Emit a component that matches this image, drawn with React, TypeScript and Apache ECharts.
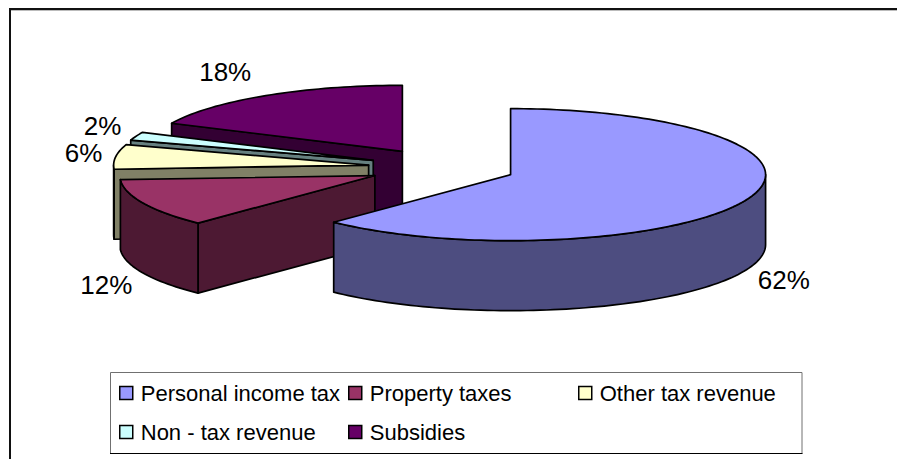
import React, { useEffect, useRef } from "react";
import * as echarts from "echarts";

const categories = ["Personal income tax", "Property taxes", "Other tax revenue", "Non - tax revenue", "Subsidies"];
const shares = [62.2, 11.8, 6, 2, 18];
const topColors = ["#9999FF", "#993366", "#FFFFCC", "#CCFFFF", "#660066"];
const wallColors = ["#4D4D80", "#4D1933", "#808066", "#668080", "#330033"];

const CX = 442;
const CY = 167.5;
const RX = 255;
const RY = 66;
const DEPTH = 70;
const EXPLODE = 0.29;
const FONT = "'Liberation Sans', Arial, sans-serif";
const rad = (d: number) => (d * Math.PI) / 180;
const total = shares.reduce((a, b) => a + b, 0);

function renderSlice(index: number) {
  return (_params: any, api: any) => {
    const before = shares.slice(0, index).reduce((a, b) => a + b, 0);
    const value = api.value(0);
    const start = (before / total) * 360;
    const end = ((before + value) / total) * 360;
    const mid = (start + end) / 2;
    const ax = CX + EXPLODE * RX * Math.sin(rad(mid));
    const ay = CY - EXPLODE * RY * Math.cos(rad(mid));
    const rim = (a: number): number[] => [ax + RX * Math.sin(rad(a)), ay - RY * Math.cos(rad(a))];
    const down = (p: number[]): number[] => [p[0], p[1] + DEPTH];
    const arc = (a: number, b: number) => {
      const n = Math.max(2, Math.ceil((b - a) / 1.5));
      const pts: number[][] = [];
      for (let i = 0; i <= n; i++) pts.push(rim(a + ((b - a) * i) / n));
      return pts;
    };
    const edge = { stroke: "#000", lineWidth: 1.7, lineJoin: "round" };
    const poly = (points: number[][], fill: string) => ({
      type: "polygon",
      shape: { points },
      style: { fill, ...edge },
    });
    const children: any[] = [];
    const apex = [ax, ay];
    if (Math.sin(rad(start)) < -1e-6) {
      const p = rim(start);
      children.push(poly([p, apex, down(apex), down(p)], wallColors[index]));
    }
    const a0 = Math.max(start, 90);
    const a1 = Math.min(end, 270);
    if (a1 > a0) {
      const top = arc(a0, a1);
      children.push(poly([...top, ...top.slice().reverse().map(down)], wallColors[index]));
    }
    children.push(poly([apex, ...arc(start, end)], topColors[index]));
    const c = Math.cos(rad(mid));
    const s = Math.sin(rad(mid));
    const anchor = rim(mid);
    children.push({
      type: "text",
      x: anchor[0] + (32 + 12 * c * c + (c < 0 ? 3 : 0)) * Math.sign(s),
      y: anchor[1] - 28 * c + (c < 0 ? DEPTH : 0),
      style: {
        text: `${Math.round(value)}%`,
        fill: "#000",
        font: `26px ${FONT}`,
        align: "center",
        verticalAlign: "middle",
      },
    });
    return { type: "group", children };
  };
}

const legendSlots = [
  { left: 119, top: 382 },
  { left: 348, top: 382 },
  { left: 578, top: 382 },
  { left: 119, top: 421 },
  { left: 348, top: 421 },
];

export default function App() {
  const ref = useRef<HTMLDivElement>(null);
  useEffect(() => {
    const chart = echarts.init(ref.current!, undefined, { renderer: "svg" });
    chart.setOption({
      animation: false,
      backgroundColor: "#fff",
      graphic: [
        {
          type: "line",
          z: 0,
          shape: { x1: 9, y1: 10.5, x2: 897, y2: 10.5 },
          style: { stroke: "#bbb", lineWidth: 1 },
        },
        {
          type: "polyline",
          z: 0,
          shape: { points: [[10, 470], [10, 9], [897, 9]] },
          style: { stroke: "#111", lineWidth: 2, fill: "none" },
        },
        {
          type: "rect",
          z: 0,
          shape: { x: 110.5, y: 372.5, width: 691.5, height: 81 },
          style: { stroke: "#707070", lineWidth: 1, fill: "#fff" },
        },
        {
          type: "line",
          z: 0,
          shape: { x1: 110, y1: 453.5, x2: 802.5, y2: 453.5 },
          style: { stroke: "#000", lineWidth: 1 },
        },
      ],
      legend: categories.map((name, i) => ({
        data: [name],
        left: legendSlots[i].left,
        top: legendSlots[i].top,
        padding: 0,
        itemWidth: 13,
        itemHeight: 13,
        itemGap: 0,
        icon: "rect",
        selectedMode: false,
        itemStyle: { borderColor: "#000", borderWidth: 1.5 },
        textStyle: { color: "#000", fontFamily: FONT, fontSize: 22, padding: [0, 0, 0, 3] },
        z: 5,
      })),
      series: categories.map((name, i) => ({
        type: "custom",
        name,
        coordinateSystem: "none",
        z: 2 + (categories.length - i),
        itemStyle: { color: topColors[i] },
        data: [[shares[i]]],
        renderItem: renderSlice(i),
      })),
    });
    return () => chart.dispose();
  }, []);
  return <div ref={ref} style={{ position: "fixed", left: 0, top: 0, width: 897, height: 459 }} />;
}
